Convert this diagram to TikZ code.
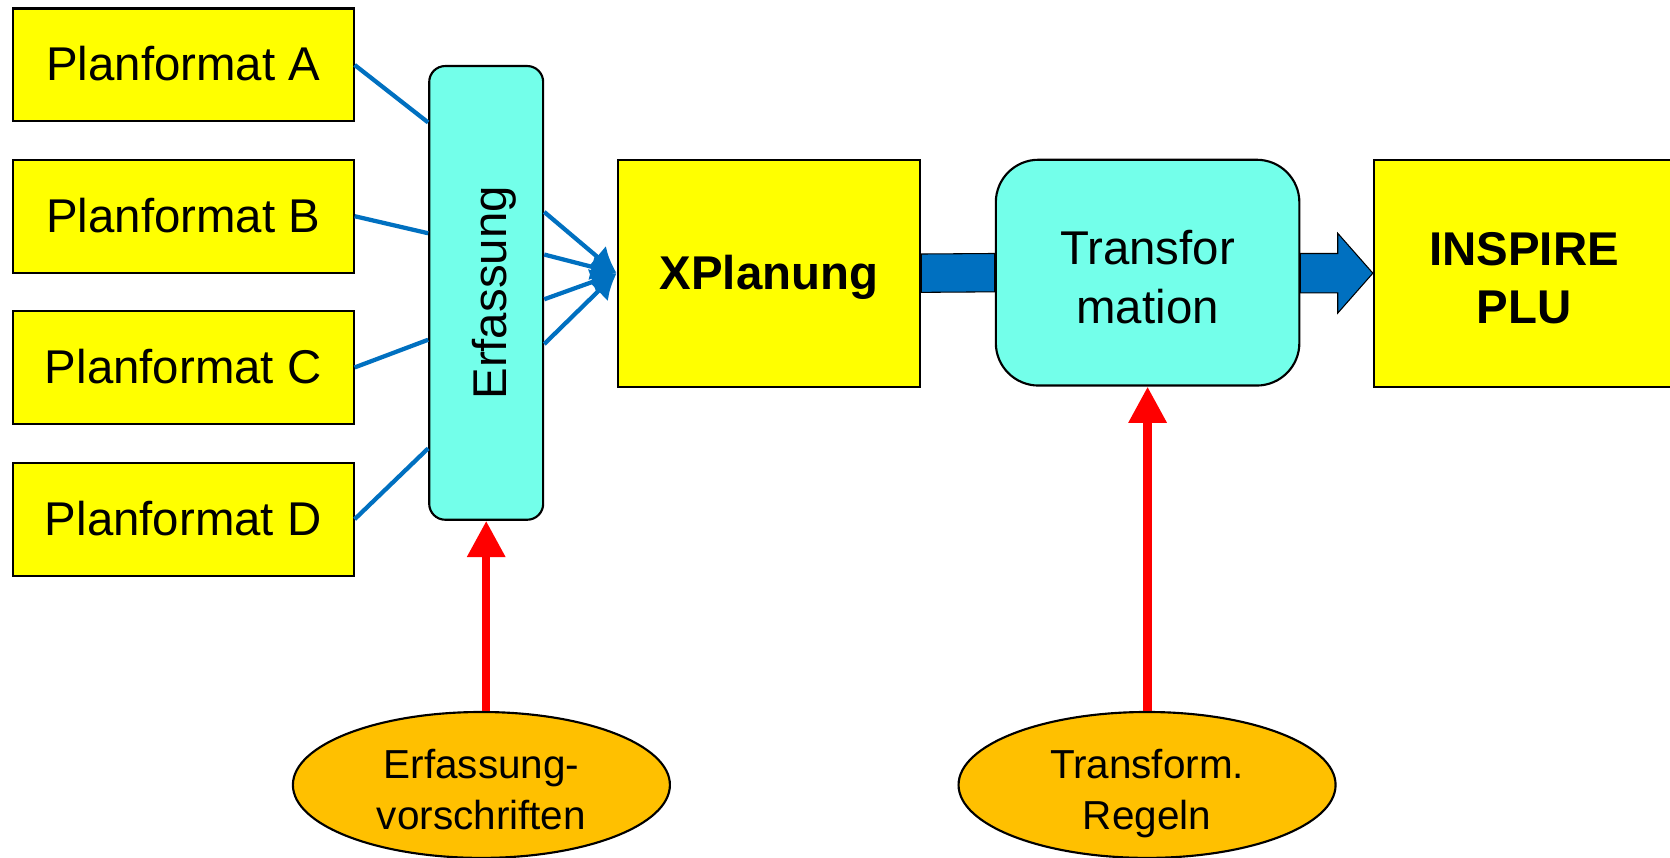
\documentclass[tikz,border=0pt]{standalone}
\usepackage{fontspec}
\setmainfont{Liberation Sans}
\usetikzlibrary{arrows.meta,shapes.geometric,calc}
\definecolor{boxyellow}{HTML}{FFFF00}
\definecolor{boxcyan}{HTML}{73FFEA}
\definecolor{ellorange}{HTML}{FFC000}
\definecolor{linkblue}{HTML}{0070C0}
\definecolor{rulered}{HTML}{FF0000}
\tikzset{
  fmtbox/.style={draw=black, line width=2pt, fill=boxyellow, minimum width=320pt, minimum height=106pt, inner sep=0pt,
    font=\fontsize{44.5}{55}\selectfont, text height=30pt, text depth=0pt},
  bigbox/.style={draw=black, line width=2pt, fill=boxyellow, minimum width=284pt, minimum height=213pt, inner sep=0pt,
    font=\fontsize{44.5}{55}\selectfont\bfseries, align=center},
  procbox/.style={draw=black, line width=2pt, fill=boxcyan, inner sep=0pt},
  ruleell/.style={ellipse, draw=black, line width=2pt, fill=ellorange, minimum width=354pt, minimum height=137pt, inner sep=0pt,
    font=\fontsize{38}{48}\selectfont, align=center, text height=84pt, text depth=0pt},
  thinlink/.style={draw=linkblue, line width=4pt},
  fanlink/.style={draw=linkblue, line width=4pt, -{Latex[length=24pt,width=26pt]}},
  redarrow/.style={draw=rulered, line width=8pt, -{Triangle[length=34pt,width=34pt]}},
  fatarrow/.style={fill=linkblue, draw=black, line width=1pt},
}
\begin{document}
\begin{tikzpicture}[x=1pt,y=1pt]
\useasboundingbox (0,0) rectangle (1568,-805);
% format boxes
\node[fmtbox] (A) at (172,-61) {Planformat A};
\node[fmtbox] (B) at (172,-203) {Planformat B};
\node[fmtbox] (C) at (172,-345) {Planformat C};
\node[fmtbox] (D) at (172,-487.5) {Planformat D};
% Erfassung
\node[procbox, rounded corners=15pt, minimum width=107pt, minimum height=426pt] (E) at (456.5,-275) {};
\node[rotate=90, font=\fontsize{44.5}{55}\selectfont, inner sep=0pt] (Elab) at (464,-275) {Erfassung};
% main boxes
\node[bigbox, text height=30pt, text depth=0pt] (X) at (722,-256.5) {XPlanung};
\node[procbox, rounded corners=40pt, minimum width=285pt, minimum height=212pt, font=\fontsize{44.5}{55}\selectfont, align=center,
  text height=95pt, text depth=0pt] (T) at (1077.5,-256) {Transfor\\mation};
\node[bigbox, minimum width=282pt, text height=95pt, text depth=0pt] (I) at (1431,-256.5) {INSPIRE\\PLU};
% ellipses
\node[ruleell] (EV) at (452,-737) {Erfassung-\\vorschriften};
\node[ruleell] (TR) at (1077,-737) {Transform.\\Regeln};
% links into Erfassung
\draw[thinlink] (A.east) -- ($(E.north west)+(0,-54)$);
\draw[thinlink] (B.east) -- ($(E.north west)+(0,-158)$);
\draw[thinlink] (C.east) -- ($(E.north west)+(0,-258)$);
\draw[thinlink] (D.east) -- ($(E.north west)+(0,-360)$);
% fan into XPlanung
\draw[fanlink] ($(E.north east)+(0,-138)$) -- (X.west);
\draw[fanlink] ($(E.north east)+(0,-178)$) -- (X.west);
\draw[fanlink] ($(E.north east)+(0,-220)$) -- (X.west);
\draw[fanlink] ($(E.north east)+(0,-262)$) -- (X.west);
% fat arrows
\path[fatarrow] ($(X.east)+(0,18)$) -- ($(T.west)+(0,18)$) -- ($(T.west)+(0,-18)$) -- ($(X.east)+(0,-18)$) -- cycle;
\path[fatarrow] ($(T.east)+(0,18)$) -- ($(T.east)+(35,18)$) -- ($(T.east)+(35,37)$) -- (I.west)
  -- ($(T.east)+(35,-38)$) -- ($(T.east)+(35,-19)$) -- ($(T.east)+(0,-19)$) -- cycle;
% red arrows
\draw[redarrow] (E.south |- EV.north) -- (E.south);
\draw[redarrow] (T.south |- TR.north) -- (T.south);
\end{tikzpicture}
\end{document}
